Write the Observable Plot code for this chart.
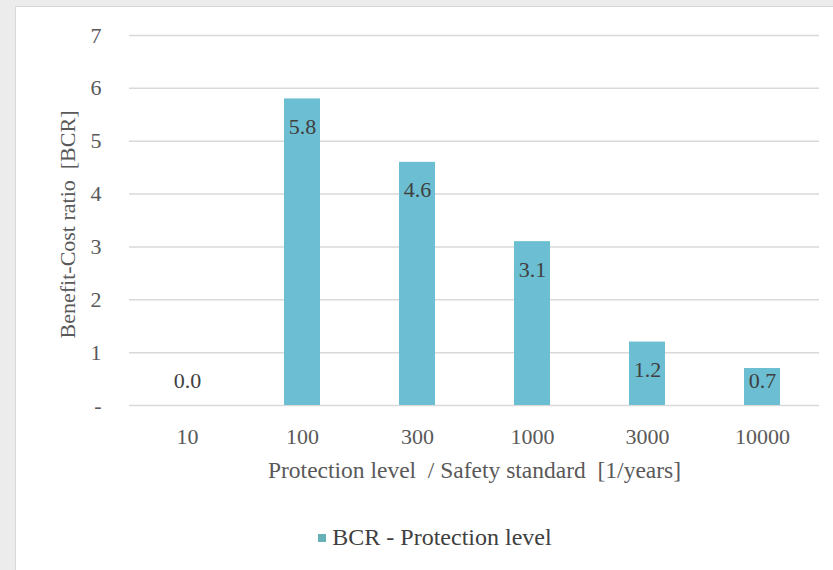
<!DOCTYPE html>
<html>
<head>
<meta charset="utf-8">
<script src="https://cdn.jsdelivr.net/npm/d3@7"></script>
<script src="https://cdn.jsdelivr.net/npm/@observablehq/plot@0.6"></script>
<style>
  html, body { margin: 0; padding: 0; }
  body { width: 833px; height: 570px; background: #ececec; position: relative; overflow: hidden; font-family: "Liberation Serif", "DejaVu Serif", serif; }
  #panel { position: absolute; left: 15px; top: 6px; right: 0; bottom: 0; background: #ffffff; border-left: 1px solid #d8d8d8; border-top: 1px solid #d8d8d8; }
  #chart svg text { white-space: pre; }
  #legend { position: absolute; left: 21px; right: 0; top: 516px; text-align: center; font-size: 24px; line-height: 28px; color: #404040; white-space: pre; }
  #legend .sw { display: inline-block; width: 8px; height: 8px; background: #66b0b8; margin-right: 6px; vertical-align: 3px; }
</style>
</head>
<body>
<div id="panel">
  <div id="chart"></div>
  <div id="legend"><span class="sw"></span>BCR - Protection level</div>
</div>
<script>
// Benefit-cost ratio per protection level (return period in years)
const levels = ["10", "100", "300", "1000", "3000", "10000"];
const bcr = [0.0, 5.8, 4.6, 3.1, 1.2, 0.7];
const yTicks = [0, 1, 2, 3, 4, 5, 6, 7];
const xTitle = "Protection level  / Safety standard  [1/years]";
const yTitle = "Benefit-Cost ratio  [BCR]";

const data = levels.map((level, i) => ({level, bcr: bcr[i]}));

const barColor = "#6cbed2";
const textColor = "#595959";
const fs = 22;

const chart = Plot.plot({
  width: 817,
  height: 490,
  marginTop: 28,
  marginLeft: 113,
  marginRight: 14,
  marginBottom: 92,
  style: {fontFamily: "'Liberation Serif', 'DejaVu Serif', serif", fontSize: fs + "px", color: textColor, background: "transparent"},
  x: {domain: levels, paddingInner: 0.69, paddingOuter: 0.345, label: null},
  y: {domain: [0, 7], label: null},
  marks: [
    Plot.gridY(yTicks, {stroke: "#d9d9d9", strokeOpacity: 1, strokeWidth: 1.5}),
    Plot.axisY(yTicks, {tickSize: 0, tickPadding: 28, tickFormat: d => d === 0 ? "-" : String(d), label: null, fill: textColor, fontSize: fs}),
    Plot.axisX({tickSize: 0, tickPadding: 23, label: null, fill: textColor, fontSize: fs}),
    Plot.barY(data, {x: "level", y: "bcr", fill: barColor}),
    // value labels sit just inside the top of each bar (kept above the baseline for short bars)
    Plot.text(data, {
      x: "level",
      y: d => Math.max(d.bcr, 1),
      dy: 28,
      text: d => d.bcr.toFixed(1),
      fill: "#404040",
      fontSize: fs
    }),
    Plot.text([xTitle], {frameAnchor: "bottom", textAnchor: "middle", lineAnchor: "middle", dy: 65, fill: textColor, fontSize: 23.5}),
    Plot.text([yTitle], {frameAnchor: "left", textAnchor: "middle", lineAnchor: "middle", rotate: -90, dx: -62, dy: 4, fill: textColor, fontSize: fs})
  ]
});
document.getElementById("chart").appendChild(chart);
</script>
</body>
</html>
